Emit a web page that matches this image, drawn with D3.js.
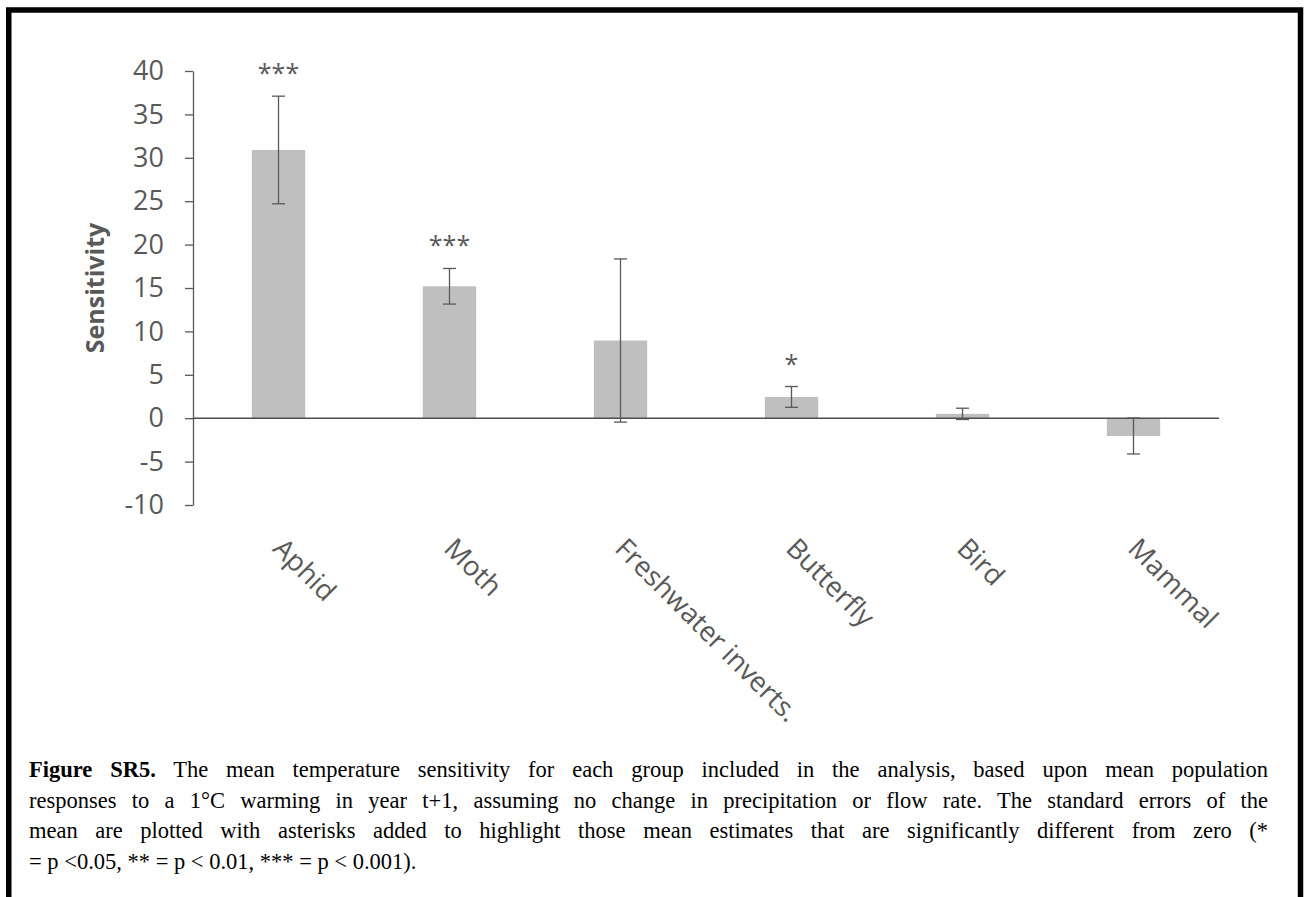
<!DOCTYPE html>
<html>
<head>
<meta charset="utf-8">
<script src="https://cdn.jsdelivr.net/npm/d3@7"></script>
<style>
  body { margin: 0; background: #fff; }
  svg { display: block; }
</style>
</head>
<body>
<svg id="chart"></svg>
<script>
// values
const categories = ['Aphid', 'Moth', 'Freshwater inverts.', 'Butterfly', 'Bird', 'Mammal'];
const means = [30.9, 15.2, 8.95, 2.45, 0.5, -2.05];
const stdErrors = [6.2, 2.05, 9.4, 1.2, 0.65, 2.07];
const signif = ['***', '***', '', '*', '', ''];
const yTicks = [-10, -5, 0, 5, 10, 15, 20, 25, 30, 35, 40];
const yTitle = 'Sensitivity';
const captionBold = 'Figure SR5.';
const captionLines = [
  ' The mean temperature sensitivity for each group included in the analysis, based upon mean population',
  'responses to a 1\u00b0C warming in year t+1, assuming no change in precipitation or flow rate. The standard errors of the',
  'mean are plotted with asterisks added to highlight those mean estimates that are significantly different from zero (*',
  '= p <0.05, ** = p < 0.01, *** = p < 0.001).'
];

const width = 1309;
const height = 897;
const plotLeft = 193, plotRight = 1219, plotTop = 71, plotBottom = 505;
const grey = '#595959';

const data = categories.map((c, i) => ({
  name: c, mean: means[i], se: stdErrors[i], sig: signif[i]
}));

const svg = d3.select('#chart')
  .attr('width', width)
  .attr('height', height)
  .style('font-family', '"Open Sans", sans-serif');

// page frame
svg.append('rect')
  .attr('x', 8.75).attr('y', 10)
  .attr('width', 1291.75).attr('height', 950)
  .attr('fill', 'none')
  .attr('stroke', '#000')
  .attr('stroke-width', 5.5);

const xScale = d3.scaleBand()
  .domain(categories)
  .range([plotLeft, plotRight])
  .paddingInner(0.688)
  .paddingOuter(0.344);

const yScale = d3.scaleLinear()
  .domain([-10, 40])
  .range([plotBottom, plotTop]);

// y axis
const yAxis = svg.append('g')
  .attr('transform', `translate(${plotLeft},0)`)
  .call(d3.axisLeft(yScale)
    .tickValues(yTicks)
    .tickFormat(d => String(d))
    .tickSize(8).tickPadding(21).tickSizeOuter(0));
yAxis.select('.domain').attr('stroke', grey).attr('stroke-width', 1.3);
yAxis.selectAll('.tick line').attr('stroke', grey).attr('stroke-width', 1.3);
yAxis.selectAll('.tick text')
  .attr('fill', grey)
  .style('font-size', '27px')
  .style('font-family', '"Open Sans", sans-serif');

svg.append('text')
  .attr('transform', `translate(104,${(plotTop + plotBottom) / 2}) rotate(-90)`)
  .attr('text-anchor', 'middle')
  .attr('fill', grey)
  .style('font-size', '25px')
  .style('font-weight', 'bold')
  .text(yTitle);

// bars
svg.append('g')
  .selectAll('rect')
  .data(data)
  .join('rect')
  .attr('x', d => xScale(d.name))
  .attr('width', xScale.bandwidth())
  .attr('y', d => yScale(Math.max(0, d.mean)))
  .attr('height', d => Math.abs(yScale(d.mean) - yScale(0)))
  .attr('fill', '#bfbfbf');

// zero line
svg.append('line')
  .attr('x1', plotLeft).attr('x2', plotRight)
  .attr('y1', yScale(0)).attr('y2', yScale(0))
  .attr('stroke', '#4d4d4d')
  .attr('stroke-width', 1.6);

// error bars
const cap = 6.5;
const err = svg.append('g')
  .attr('stroke', grey)
  .attr('stroke-width', 1.3);
data.forEach(d => {
  const cx = xScale(d.name) + xScale.bandwidth() / 2;
  const y1 = yScale(d.mean + d.se), y2 = yScale(d.mean - d.se);
  err.append('line').attr('x1', cx).attr('x2', cx).attr('y1', y1).attr('y2', y2);
  err.append('line').attr('x1', cx - cap).attr('x2', cx + cap).attr('y1', y1).attr('y2', y1);
  err.append('line').attr('x1', cx - cap).attr('x2', cx + cap).attr('y1', y2).attr('y2', y2);
});

// significance stars
svg.append('g')
  .selectAll('text')
  .data(data.filter(d => d.sig))
  .join('text')
  .attr('x', d => xScale(d.name) + xScale.bandwidth() / 2)
  .attr('y', d => yScale(d.mean + d.se) - 14)
  .attr('text-anchor', 'middle')
  .attr('fill', grey)
  .style('font-size', '25px')
  .text(d => d.sig);

// category labels, rotated
svg.append('g')
  .selectAll('text')
  .data(categories)
  .join('text')
  .attr('transform', d => `translate(${xScale(d) + xScale.bandwidth() / 2 - 7},550) rotate(45)`)
  .attr('fill', grey)
  .style('font-size', '27.5px')
  .text(d => d);

// caption, justified to a common right edge like the original
const capX = 29, capRight = 1268;
const baselines = [776.7, 807.5, 838.3, 869.2];
captionLines.forEach((line, i) => {
  const t = svg.append('text')
    .attr('x', capX)
    .attr('y', baselines[i])
    .attr('fill', '#000')
    .style('font-family', '"Liberation Serif", "Times New Roman", serif')
    .style('font-size', '22.5px');
  if (i === 0) {
    t.append('tspan').style('font-weight', 'bold').text(captionBold);
  }
  t.append('tspan').text(line);
  if (i < 3) {
    const full = (i === 0 ? captionBold : '') + line;
    const spaces = (full.trim().match(/ /g) || []).length;
    const natural = t.node().getComputedTextLength();
    t.style('word-spacing', Math.max(0, (capRight - capX - natural) / spaces) + 'px');
  }
});
</script>
</body>
</html>
